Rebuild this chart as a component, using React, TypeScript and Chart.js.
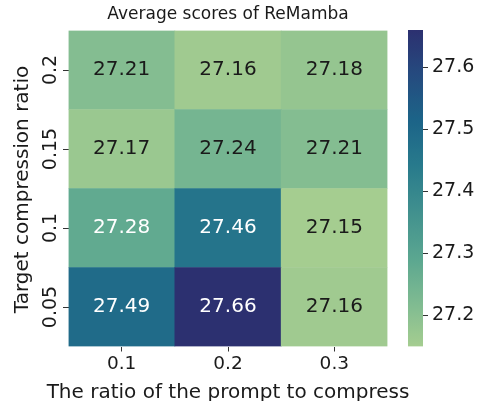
import React, { useEffect, useRef } from 'react';
import { Chart, registerables } from 'chart.js';

Chart.register(...registerables);

// ---- data ----
const xLabels = ['0.1', '0.2', '0.3'];
const yLabels = ['0.05', '0.1', '0.15', '0.2']; // bottom to top
const row005 = [27.49, 27.66, 27.16];
const row010 = [27.28, 27.46, 27.15];
const row015 = [27.17, 27.24, 27.21];
const row020 = [27.21, 27.16, 27.18];
const rows = [row005, row010, row015, row020];
const colorbarTicks = [27.2, 27.3, 27.4, 27.5, 27.6];
const vmin = 27.15;
const vmax = 27.66;
const titleText = 'Average scores of ReMamba';
const xTitle = 'The ratio of the prompt to compress';
const yTitle = 'Target compression ratio';

// ---- style ----
const FONT = "'DejaVu Sans', sans-serif";
const TEXT = '#1a1a1a';
const TICK = '#333333';
const CREST = ['#a5cd90', '#7dba91', '#59a590', '#40908e', '#287a8c', '#1c6488', '#254b7f', '#2c3070'];

function hexToRgb(h: string) {
  const n = parseInt(h.slice(1), 16);
  return [(n >> 16) & 255, (n >> 8) & 255, n & 255];
}
function crest(t: number) {
  const tt = Math.max(0, Math.min(1, t)) * (CREST.length - 1);
  const i = Math.min(CREST.length - 2, Math.floor(tt));
  const f = tt - i;
  const a = hexToRgb(CREST[i]);
  const b = hexToRgb(CREST[i + 1]);
  const c = a.map((v, k) => Math.round(v + (b[k] - v) * f));
  return `rgb(${c[0]},${c[1]},${c[2]})`;
}
const norm = (v: number) => (v - vmin) / (vmax - vmin);

const heatLabels = {
  id: 'heatLabels',
  afterDatasetsDraw(chart: any) {
    const ctx = chart.ctx;
    const xs = chart.scales.x;
    const ys = chart.scales.y;
    const area = chart.chartArea;
    ctx.save();
    ctx.font = `20px ${FONT}`;
    ctx.textAlign = 'center';
    ctx.textBaseline = 'middle';
    rows.forEach((r, i) =>
      r.forEach((v, j) => {
        ctx.fillStyle = norm(v) > 0.2 ? '#ffffff' : TEXT;
        ctx.fillText(v.toFixed(2), xs.getPixelForValue(j), ys.getPixelForValue(i + 0.5));
      })
    );
    ctx.font = `19px ${FONT}`;
    ctx.fillStyle = TEXT;
    yLabels.forEach((lab, i) => {
      ctx.save();
      ctx.translate(ys.right - 17.5, ys.getPixelForValue(i + 0.5));
      ctx.rotate(-Math.PI / 2);
      ctx.fillText(lab, 0, 0);
      ctx.restore();
    });
    // axis titles
    ctx.font = `20px ${FONT}`;
    ctx.textBaseline = 'alphabetic';
    ctx.fillText(xTitle, (area.left + area.right) / 2, xs.bottom - 3);
    ctx.save();
    ctx.translate(ys.left + 27.5, (area.top + area.bottom) / 2 + 1);
    ctx.rotate(-Math.PI / 2);
    ctx.fillText(yTitle, 0, 0);
    ctx.restore();
    ctx.restore();
  },
};

export default function App() {
  const mainRef = useRef<HTMLCanvasElement>(null);
  const barRef = useRef<HTMLCanvasElement>(null);

  useEffect(() => {
    Chart.defaults.font.family = FONT;
    Chart.defaults.color = TEXT;

    const main = new Chart(mainRef.current!, {
      type: 'bar',
      data: {
        labels: xLabels,
        datasets: rows.map((r, i) => ({
          label: yLabels[i],
          data: r.map(() => 1),
          backgroundColor: r.map((v) => crest(norm(v))),
          borderWidth: 0,
          barPercentage: 1,
          categoryPercentage: 1,
        })),
      },
      options: {
        responsive: false,
        animation: false,
        layout: { padding: { left: 0, right: 92.5, top: 0, bottom: 0 } },
        plugins: {
          legend: { display: false },
          tooltip: { enabled: false },
          title: {
            display: true,
            text: titleText,
            fullSize: false,
            color: TEXT,
            font: { family: FONT, size: 17, weight: 'normal' },
            padding: { top: 4.5, bottom: 5.6 },
          },
        },
        scales: {
          x: {
            stacked: true,
            grid: { drawOnChartArea: false, offset: false, tickLength: 5, tickColor: TICK, tickWidth: 1 },
            border: { display: false },
            ticks: { font: { family: FONT, size: 18.5 }, color: TEXT, padding: 2 },
            afterFit: (s: any) => { s.height = 54.5; },
          },
          y: {
            stacked: true,
            min: 0,
            max: 4,
            afterBuildTicks: (s: any) => { s.ticks = [0.5, 1.5, 2.5, 3.5].map((v) => ({ value: v })); },
            ticks: { display: false },
            grid: { drawOnChartArea: false, tickLength: 5.5, tickColor: TICK, tickWidth: 1 },
            border: { display: false },
            afterFit: (s: any) => { s.width = 68.5; },
          },
        },
      } as any,
      plugins: [heatLabels],
    });

    const bar = new Chart(barRef.current!, {
      type: 'bar',
      data: {
        labels: [''],
        datasets: [
          {
            data: [[vmin, vmax]] as any,
            borderWidth: 0,
            barPercentage: 1,
            categoryPercentage: 1,
            backgroundColor: (c: any) => {
              const chart = c.chart;
              if (!chart.chartArea) return CREST[0];
              const ys = chart.scales.y;
              const g = chart.ctx.createLinearGradient(0, ys.getPixelForValue(vmin), 0, ys.getPixelForValue(vmax));
              for (let k = 0; k <= 50; k++) g.addColorStop(k / 50, crest(k / 50));
              return g;
            },
          },
        ],
      },
      options: {
        responsive: false,
        animation: false,
        layout: { padding: { left: 408, right: 0, top: 30, bottom: 54.5 } },
        plugins: { legend: { display: false }, tooltip: { enabled: false } },
        scales: {
          x: { display: false },
          y: {
            position: 'right',
            min: vmin,
            max: vmax,
            afterBuildTicks: (s: any) => { s.ticks = colorbarTicks.map((v) => ({ value: v })); },
            ticks: { callback: (v: any) => Number(v).toFixed(1), font: { family: FONT, size: 19 }, color: TEXT, padding: 4 },
            grid: { drawOnChartArea: false, tickLength: 5, tickColor: TICK, tickWidth: 1 },
            border: { display: false },
            afterFit: (s: any) => { s.width = 57; },
          },
        },
      } as any,
    });

    return () => {
      main.destroy();
      bar.destroy();
    };
  }, []);

  return (
    <div style={{ position: 'fixed', left: 0, top: 0, width: 480, height: 401, background: '#ffffff' }}>
      <canvas ref={mainRef} width={480} height={401} style={{ position: 'absolute', left: 0, top: 0 }} />
      <canvas ref={barRef} width={480} height={401} style={{ position: 'absolute', left: 0, top: 0, pointerEvents: 'none' }} />
    </div>
  );
}
